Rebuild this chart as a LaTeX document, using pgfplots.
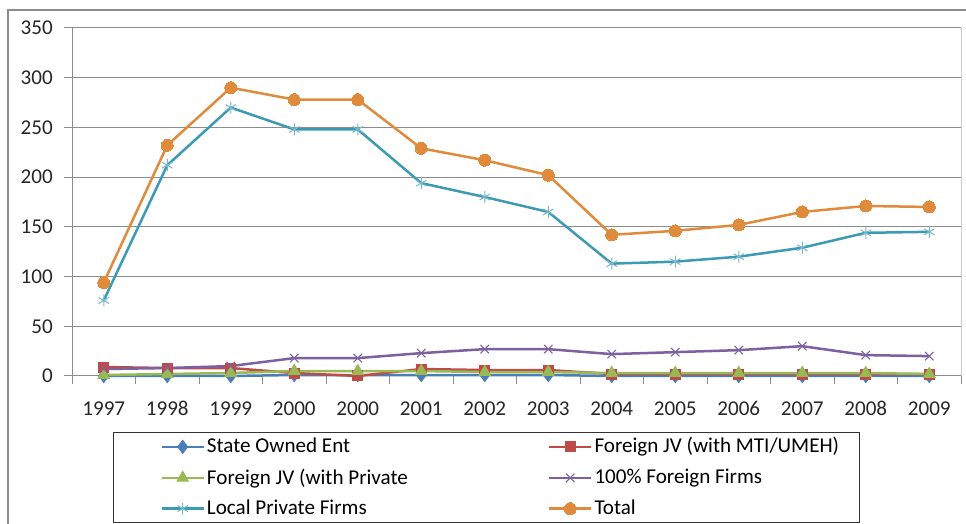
\documentclass[border=0pt]{standalone}
\usepackage{pgfplots}
\pgfplotsset{compat=1.18}
\usepackage{fontspec}
\setmainfont{Carlito}

\definecolor{cSOE}{HTML}{4A7EBB}
\definecolor{cMTI}{HTML}{BE4B48}
\definecolor{cPRV}{HTML}{98B954}
\definecolor{cFOR}{HTML}{7D60A0}
\definecolor{cLOC}{HTML}{3C9AB4}
\definecolor{cTOT}{HTML}{E08A3C}
\definecolor{gridgray}{HTML}{8C8C8C}

\newcommand{\chartfont}{\fontsize{21.1}{25}\selectfont}

\begin{document}
\chartfont
\begin{tikzpicture}[x=1pt,y=1pt]
\useasboundingbox (0,0) rectangle (966,524);
% outer chart frame
\draw[gridgray, line width=2pt] (8,-10) -- (8,514) -- (980,514);
\begin{axis}[
  at={(72pt,148pt)}, anchor=south west,
  width=889pt, height=348pt, scale only axis,
  xmin=-0.5, xmax=13.5, ymin=0, ymax=350,
  ytick={0,50,...,350},
  % category boundaries carry the tick marks
  xtick={-0.5,0.5,...,13.5},
  xticklabels={},
  % category centres carry the year labels
  extra x ticks={0,...,13},
  extra x tick labels={1997,1998,1999,2000,2000,2001,2002,2003,2004,2005,2006,2007,2008,2009},
  extra x tick style={major tick length=0pt, grid=none},
  axis x line=bottom, axis y line=left,
  axis line style={-, gridgray, line width=1pt},
  tick style={gridgray, line width=1pt},
  tick align=outside, major tick length=8pt,
  ymajorgrids, grid style={gridgray, line width=1pt},
  /pgf/number format/assume math mode=true,
  ticklabel style={font=\chartfont, text=black!85},
  yticklabel style={xshift=-4pt},
  xticklabel style={yshift=-18pt, text height=14pt, text depth=0pt},
  clip=false,
  legend columns=2,
  legend cell align=left,
  legend style={
    at={(axis description cs:0.0461,-0.161)}, anchor=north west,
    draw=black!80, line width=1pt,
    font=\chartfont,
    inner xsep=18pt, inner ysep=3pt,
    row sep=8.5pt,
    /tikz/column 2/.style={column sep=109pt},
  },
  legend image code/.code={\path (0pt,0pt); \draw[mark repeat=2,mark phase=2] plot coordinates {(29pt,0pt) (50pt,0pt) (71pt,0pt)};},
  every axis plot/.append style={line width=2.5pt},
]
\addplot[cSOE, mark=diamond*, mark size=6.5pt, mark options={fill=cSOE, line width=1pt}]
  coordinates {(0,0) (1,0) (2,0) (3,1) (4,1) (5,1) (6,1) (7,1) (8,0) (9,0) (10,0) (11,0) (12,0) (13,0)};
\addlegendentry{State Owned Ent}
\addplot[cMTI, mark=square*, mark size=5pt, mark options={fill=cMTI, line width=1pt}]
  coordinates {(0,9) (1,8) (2,8) (3,3) (4,0) (5,7) (6,6) (7,6) (8,2) (9,2) (10,2) (11,2) (12,2) (13,2)};
\addlegendentry{Foreign JV (with MTI/UMEH)}
\addplot[cPRV, mark=triangle*, mark size=6.5pt, mark options={fill=cPRV, line width=1pt}]
  coordinates {(0,1) (1,2) (2,3) (3,5) (4,5) (5,5) (6,4) (7,4) (8,3) (9,3) (10,3) (11,3) (12,3) (13,2)};
\addlegendentry{Foreign JV (with Private}
\addplot[cFOR, mark=x, mark size=6pt, mark options={line width=1pt}]
  coordinates {(0,7) (1,8) (2,10) (3,18) (4,18) (5,23) (6,27) (7,27) (8,22) (9,24) (10,26) (11,30) (12,21) (13,20)};
\addlegendentry{100\% Foreign Firms}
\addplot[cLOC, mark=asterisk, mark size=6pt, mark options={line width=1pt, cLOC!70}]
  coordinates {(0,76) (1,212) (2,270) (3,248) (4,248) (5,194) (6,180) (7,165) (8,113) (9,115) (10,120) (11,129) (12,144) (13,145)};
\addlegendentry{Local Private Firms}
\addplot[cTOT, mark=*, mark size=6pt, mark options={fill=cTOT, line width=0pt}]
  coordinates {(0,94) (1,232) (2,290) (3,278) (4,278) (5,229) (6,217) (7,202) (8,142) (9,146) (10,152) (11,165) (12,171) (13,170)};
\addlegendentry{Total}
% right edge of the plot area
\draw[black!20, line width=1pt] (rel axis cs:1,0) -- (rel axis cs:1,1);
\end{axis}
\end{tikzpicture}
\end{document}
